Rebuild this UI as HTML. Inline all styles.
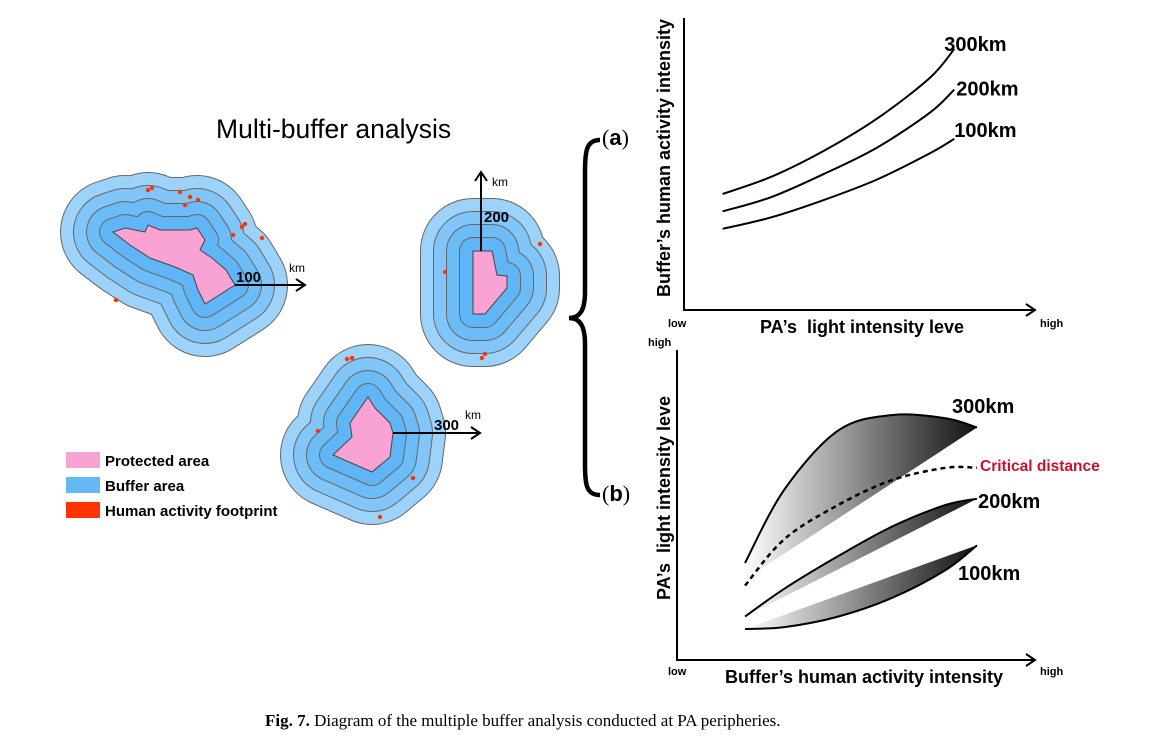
<!DOCTYPE html>
<html><head><meta charset="utf-8"><style>
body{margin:0;background:#fff;}
svg{display:block;font-family:"Liberation Sans",Arial,sans-serif;}
text{white-space:pre;}
</style></head><body>
<svg id="fig" width="1155" height="748" viewBox="0 0 1155 748">
<defs>
<linearGradient id="gr" x1="0" x2="1" y1="0" y2="0"><stop offset="0" stop-color="#fff"/><stop offset="1" stop-color="#111"/></linearGradient>
<marker id="ah" markerWidth="12" markerHeight="14" refX="10" refY="7" orient="auto" markerUnits="userSpaceOnUse"><path d="M1,1 L10,7 L1,13" fill="none" stroke="#000" stroke-width="2"/></marker>
</defs>
<text x="216" y="138" font-size="26.5">Multi-buffer analysis</text>
<g id="maps"></g>
<g font-size="15" font-weight="bold">
<rect x="66" y="452" width="34" height="16" fill="#f9a3d4"/>
<text x="105" y="466">Protected area</text>
<rect x="66" y="477" width="34" height="16" fill="#66b8f5"/>
<text x="105" y="491">Buffer area</text>
<rect x="66" y="502" width="34" height="16" fill="#ff3300"/>
<text x="105" y="516">Human activity footprint</text>
</g>
<path d="M600,140 C586,140 585,152 585,172 L585,292 C585,310 580,318 569,318 C580,318 585,326 585,344 L585,464 C585,484 586,495 600,495" fill="none" stroke="#000" stroke-width="4.5"/>
<text x="602" y="145" font-size="22" font-family="Liberation Serif,serif">(<tspan font-weight="bold" font-family="Liberation Sans">a</tspan>)</text>
<text x="602" y="501" font-size="22" font-family="Liberation Serif,serif">(<tspan font-weight="bold" font-family="Liberation Sans">b</tspan>)</text>
<g id="chartA"></g>
<g id="chartB"></g>
<text x="265" y="726" font-size="17" font-family="Liberation Serif,serif"><tspan font-weight="bold">Fig. 7.</tspan> Diagram of the multiple buffer analysis conducted at PA peripheries.</text>
</svg>
<script>
const NS="http://www.w3.org/2000/svg";
// ---- chart (a) data ----
const aX=[1.1,2.5,4,5.5,7,7.7];
const a300=[4.0,4.6,5.5,6.6,8.0,9.0];
const a200=[3.4,3.9,4.7,5.6,6.8,7.6];
const a100=[2.8,3.2,3.8,4.5,5.4,5.9];
const aLabels=["300km","200km","100km"];
// ---- chart (b) data ----
const bX=[1.9,3,4.5,6,7.5,8.38];
const b300Upper=[3.13,5.5,7.4,7.9,7.8,7.5];
const b300Lower=[2.6,7.5];
const bCritical=[2.4,3.9,5.0,5.8,6.2,6.2];
const b200Upper=[1.4,2.3,3.35,4.3,5.0,5.2];
const b200Lower=[1.4,5.2];
const b100Lower=[1.0,1.06,1.4,2.0,2.9,3.7];
const b100Upper=[1.0,3.7];

function mk(tag,attrs,parent){const e=document.createElementNS(NS,tag);for(const k in attrs)e.setAttribute(k,attrs[k]);parent.appendChild(e);return e;}
function smooth(p){let d="M"+p[0][0]+","+p[0][1];for(let i=0;i<p.length-1;i++){const p0=p[i-1]||p[i],p1=p[i],p2=p[i+1],p3=p[i+2]||p2;
d+=" C"+(p1[0]+(p2[0]-p0[0])/6)+","+(p1[1]+(p2[1]-p0[1])/6)+" "+(p2[0]-(p3[0]-p1[0])/6)+","+(p2[1]-(p3[1]-p1[1])/6)+" "+p2[0]+","+p2[1];}return d;}
function txt(parent,x,y,s,attrs){const t=mk("text",Object.assign({x:x,y:y},attrs||{}),parent);t.textContent=s;return t;}

// chart a
const A=document.getElementById("chartA");
const xa=v=>684+v*35.1, ya=v=>310-v*29;
let e=mk("path",{d:"M684,18 L684,310 L1035,310",fill:"none",stroke:"#000","stroke-width":2,"marker-end":"url(#ah)"},A);


[a300,a200,a100].forEach((s,i)=>{const l=mk("path",{d:smooth(aX.map((x,j)=>[xa(x),ya(s[j])])),fill:"none",stroke:"#000","stroke-width":2},A);


const last=[xa(aX[aX.length-1]),ya(s[s.length-1])];
const t=txt(A,last[0]+[-10,2,0][i],last[1]+[2,6,-2][i],aLabels[i],{"font-size":20,"font-weight":"bold"});

});
e=txt(A,668,327,"low",{"font-size":11,"font-weight":"bold"});
e=txt(A,1040,327,"high",{"font-size":11,"font-weight":"bold"});
e=txt(A,862,333,"PA\u2019s  light intensity leve",{"font-size":18,"font-weight":"bold","text-anchor":"middle"});
e=txt(A,0,0,"Buffer\u2019s human activity intensity",{"font-size":18,"font-weight":"bold","text-anchor":"middle",transform:"translate(670,158) rotate(-90)"});

// chart b
const B=document.getElementById("chartB");
const xb=v=>677+v*35.8, yb=v=>660-v*31;
e=mk("path",{d:"M677,350 L677,660 L1035,660",fill:"none",stroke:"#000","stroke-width":2,"marker-end":"url(#ah)"},B);


function band(curve,line,name){
 const pts=bX.map((x,j)=>[xb(x),yb(curve[j])]);
 const L0=[xb(bX[0]),yb(line[0])],L1=[xb(bX[bX.length-1]),yb(line[1])];
 const f=mk("path",{d:smooth(pts)+" L"+L1[0]+","+L1[1]+" L"+L0[0]+","+L0[1]+" Z",fill:"url(#gr)",stroke:"none"},B);
 
 
 const c=mk("path",{d:smooth(pts),fill:"none",stroke:"#000","stroke-width":2},B);
 
 
}
band(b300Upper,b300Lower,"300km");
band(b200Upper,b200Lower,"200km");
band(b100Lower,b100Upper,"100km");
e=mk("path",{d:smooth(bX.map((x,j)=>[xb(x),yb(bCritical[j])])),fill:"none",stroke:"#000","stroke-width":2.5,"stroke-dasharray":"5,4"},B);


e=txt(B,952,413,"300km",{"font-size":20,"font-weight":"bold"});
e=txt(B,980,471,"Critical distance",{"font-size":15.5,"font-weight":"bold",fill:"#c8102e"});
e=txt(B,978,508,"200km",{"font-size":20,"font-weight":"bold"});
e=txt(B,958,580,"100km",{"font-size":20,"font-weight":"bold"});
e=txt(B,648,346,"high",{"font-size":11,"font-weight":"bold"});
e=txt(B,668,675,"low",{"font-size":11,"font-weight":"bold"});
e=txt(B,1040,675,"high",{"font-size":11,"font-weight":"bold"});
e=txt(B,864,683,"Buffer\u2019s human activity intensity",{"font-size":18,"font-weight":"bold","text-anchor":"middle"});
e=txt(B,0,0,"PA\u2019s  light intensity leve",{"font-size":18,"font-weight":"bold","text-anchor":"middle",transform:"translate(670,498) rotate(-90)"});

// maps
const M=document.getElementById("maps");
const pas=[
 {name:"map-100",pa:[[113,232],[125,228],[145,232],[148,225],[160,230],[190,230],[197,228],[205,240],[200,250],[212,258],[226,270],[235,285],[205,304],[198,290],[193,275],[175,267],[150,258],[130,245]]},
 {name:"map-200",pa:[[473,251],[492,251],[497,275],[507,276],[507,288],[485,314],[473,314]]},
 {name:"map-300",pa:[[368,397],[375,408],[390,423],[393,433],[390,457],[372,472],[333,455],[352,437],[350,423]]}
];
const ringColors=["#9dd3fa","#82c6f9","#6cbcf7","#5fb5f5"];
const radii=[52,39,26,13];
pas.forEach(m=>{
 const g=mk("g",{},M);
 
 
 const d="M"+m.pa.map(p=>p.join(",")).join(" L")+" Z";
 radii.forEach((r,i)=>{
  mk("path",{d:d,fill:"#666",stroke:"#666","stroke-width":2*r+2,"stroke-linejoin":"round"},g);
  mk("path",{d:d,fill:ringColors[i],stroke:ringColors[i],"stroke-width":2*r,"stroke-linejoin":"round"},g);
 });
 const p=mk("path",{d:d,fill:"#f9a3d4",stroke:"#444","stroke-width":1},g);
 
 
});
[[148,190],[152,188],[180,192],[190,197],[185,205],[198,200],[242,227],[245,224],[116,300],[445,272],[540,244],[485,354],[482,358],[352,358],[347,359],[318,431],[380,517],[413,478],[233,235],[262,238]].forEach(c=>{
 const d=mk("circle",{cx:c[0],cy:c[1],r:2.2,fill:"#ff3300"},M);
 
 
});
function arrow(x1,y1,x2,y2,num,nx,ny,kx,ky){
 const g=mk("g",{},M);
 
 
 mk("line",{x1:x1,y1:y1,x2:x2,y2:y2,stroke:"#000","stroke-width":2,"marker-end":"url(#ah)"},g);
 txt(g,nx,ny,num,{"font-size":15,"font-weight":"bold"});
 txt(g,kx,ky,"km",{"font-size":12});
}
arrow(235,285,305,285,"100",236,282,289,272);
arrow(481,251,481,172,"200",484,222,492,186);
arrow(393,433,480,433,"300",434,430,465,419);
</script>
</body></html>
